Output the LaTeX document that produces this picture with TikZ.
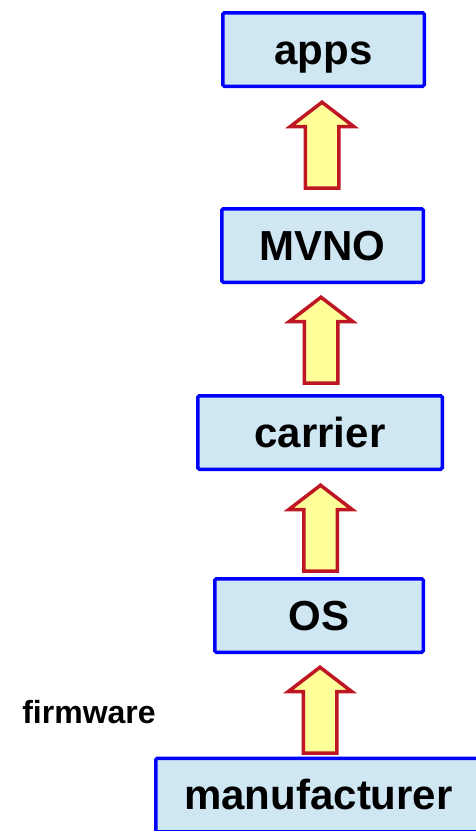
\documentclass[tikz,border=0pt]{standalone}
\usepackage{fontspec}
\setmainfont{Liberation Sans}
\usetikzlibrary{positioning, shapes.arrows}
\definecolor{layerfill}{RGB}{207,230,243}
\definecolor{arrowline}{RGB}{190,22,34}
\definecolor{arrowfill}{RGB}{255,255,153}
\begin{document}
\begin{tikzpicture}[x=1pt, y=1pt,
    layer/.style={draw=blue, line width=3.5pt, fill=layerfill, rounded corners=1.5pt,
                  minimum height=73.5pt, inner sep=0pt, text height=29pt, text depth=0pt,
                  font=\fontsize{42}{50}\selectfont\bfseries},
    uparrow/.style={single arrow, draw=arrowline, fill=arrowfill, line width=3.5pt,
                    shape border rotate=90, minimum height=86pt,
                    inner xsep=15pt, inner ysep=0pt,
                    single arrow head extend=15pt, single arrow tip angle=105,
                    anchor=tip},
    sidelbl/.style={font=\fontsize{32}{38}\selectfont\bfseries},
]
    \useasboundingbox (0,0) rectangle (476,-831);

    % stack of layers, top to bottom
    \node[layer, minimum width=201.5pt] (apps) at (323.5,-49.5) {apps};
    \node[layer, minimum width=201.5pt] (mvno) at (322.5,-245.5) {MVNO};
    \node[layer, minimum width=244.5pt] (carrier) at (320,-432.5) {carrier};
    \node[layer, minimum width=208.5pt] (os) at (319,-615.5) {OS};
    \node[layer, minimum width=325.5pt] (manufacturer) at (318.5,-795) {manufacturer};

    % block arrows between layers
    \node[uparrow] (up1) at ([xshift=-1.5pt, yshift=-12pt]apps.south) {};
    \node[uparrow] (up2) at ([xshift=-1.5pt, yshift=-11pt]mvno.south) {};
    \node[uparrow] (up3) at ([xshift=0.5pt, yshift=-12pt]carrier.south) {};
    \node[uparrow] (up4) at ([xshift=1pt, yshift=-11pt]os.south) {};

    % side label
    \node[sidelbl] (firmware) at (89,-712) {firmware};
\end{tikzpicture}
\end{document}
